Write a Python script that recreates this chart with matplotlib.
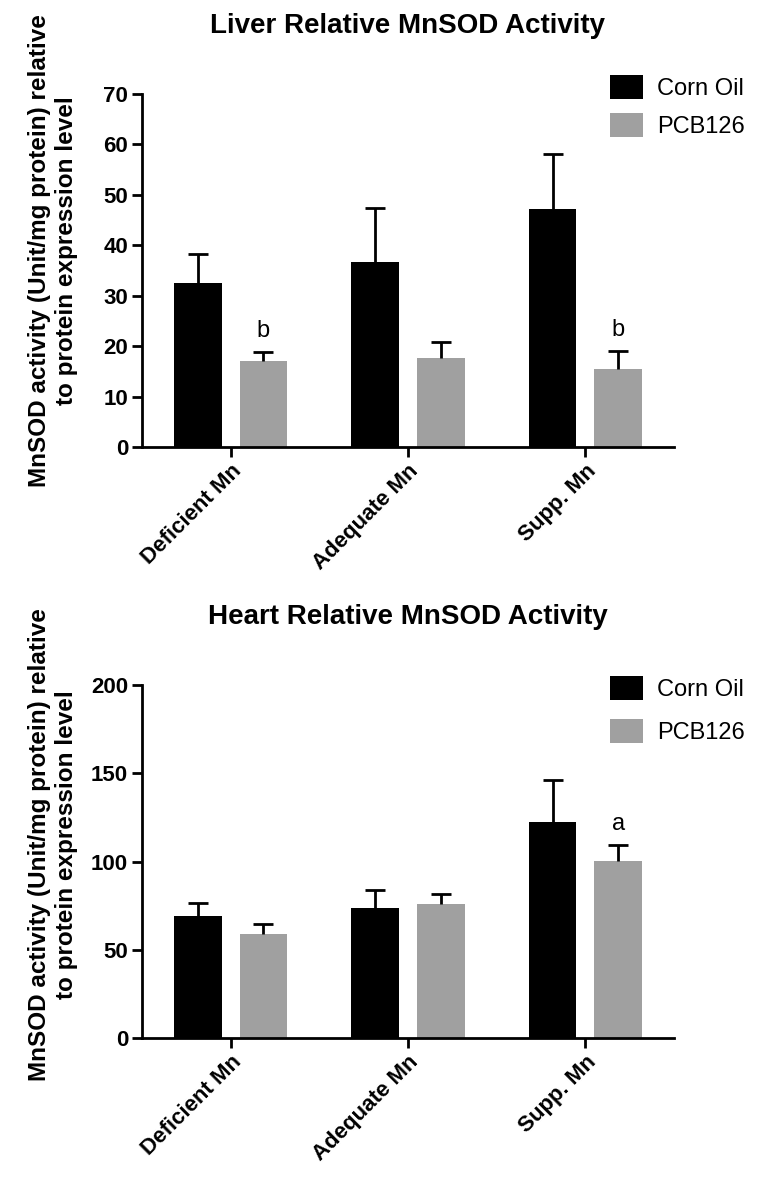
import numpy as np
import matplotlib
matplotlib.use("Agg")
import matplotlib.pyplot as plt
from matplotlib.patches import Patch

plt.rcParams["font.family"] = ["Liberation Sans", "DejaVu Sans"]

# ---------------------------------------------------------------- data
categories = ["Deficient Mn", "Adequate Mn", "Supp. Mn"]
series_names = ["Corn Oil", "PCB126"]

liver_corn = [32.6, 36.6, 47.1]
liver_corn_err = [5.6, 10.8, 11.1]
liver_pcb = [17.0, 17.6, 15.5]
liver_pcb_err = [1.9, 3.3, 3.5]
liver_letters = ["b", "", "b"]

heart_corn = [69.3, 73.5, 122.2]
heart_corn_err = [7.2, 10.4, 24.2]
heart_pcb = [58.9, 76.1, 100.4]
heart_pcb_err = [5.7, 5.3, 9.1]
heart_letters = ["", "", "a"]

liver_yticks = [0, 10, 20, 30, 40, 50, 60, 70]
heart_yticks = [0, 50, 100, 150, 200]

ylabel = "MnSOD activity (Unit/mg protein) relative\nto protein expression level"
colors = ["#000000", "#a0a0a0"]


def draw_panel(fig, rect, title, corn, corn_err, pcb, pcb_err, letters,
               yticks, legend_y, legend_sp, ylabel_y):
    ax = fig.add_axes(rect)
    x = np.arange(len(categories))
    w, off = 0.27, 0.185
    for vals, errs, dx, c in [(corn, corn_err, -off, colors[0]),
                              (pcb, pcb_err, off, colors[1])]:
        ax.bar(x + dx, vals, w, color=c, zorder=2)
        # upper-only error bars, cap on top end only
        eb = ax.errorbar(x + dx, vals, yerr=[np.zeros(len(vals)), errs],
                         fmt="none", ecolor="k", elinewidth=2, capsize=7.5,
                         capthick=2, zorder=3)
        eb[1][0].set_visible(False)
    for xi, v, e, s in zip(x, pcb, pcb_err, letters):
        if s:
            ax.annotate(s, (xi + off, v + e), xytext=(0, 7),
                        textcoords="offset points", ha="center", va="bottom",
                        fontsize=17)

    ax.set_xlim(-0.5, 2.5)
    ax.set_ylim(0, yticks[-1])
    ax.set_yticks(yticks)
    ax.set_xticks(x)
    ax.set_xticklabels(categories, rotation=45, ha="right",
                       rotation_mode="anchor", fontsize=16, fontweight="bold")
    for lab in ax.get_yticklabels():
        lab.set_fontsize(16)
        lab.set_fontweight("bold")
    for s in ["top", "right"]:
        ax.spines[s].set_visible(False)
    for s in ["left", "bottom"]:
        ax.spines[s].set_linewidth(2)
    ax.tick_params(axis="both", width=2, length=7, pad=3)

    handles = [Patch(facecolor=c, edgecolor="none") for c in colors]
    ax.legend(handles, series_names, loc="upper left",
              bbox_to_anchor=(0.88, legend_y), frameon=False, fontsize=17,
              handlelength=1.4, handleheight=1.2, handletextpad=0.6,
              labelspacing=legend_sp, borderpad=0, borderaxespad=0)

    l, b, wd, h = rect
    fig.text(l + wd / 2, b + h + 0.058, title, ha="center", va="center",
             fontsize=20, fontweight="bold")
    fig.text(53 / 760, ylabel_y, ylabel, rotation=90, ha="center",
             va="center", multialignment="center", fontsize=17.5,
             fontweight="bold", linespacing=1.2)
    return ax


fig = plt.figure(figsize=(7.6, 11.81), dpi=100)
draw_panel(fig, [142 / 760, 1 - 447 / 1181, 532 / 760, 353 / 1181],
           "Liver Relative MnSOD Activity",
           liver_corn, liver_corn_err, liver_pcb, liver_pcb_err, liver_letters,
           liver_yticks, 1.055, 0.55, 1 - 251 / 1181)
draw_panel(fig, [142 / 760, 1 - 1038 / 1181, 532 / 760, 353 / 1181],
           "Heart Relative MnSOD Activity",
           heart_corn, heart_corn_err, heart_pcb, heart_pcb_err, heart_letters,
           heart_yticks, 1.025, 0.75, 1 - 845 / 1181)

fig.savefig("out.png", dpi=100)
